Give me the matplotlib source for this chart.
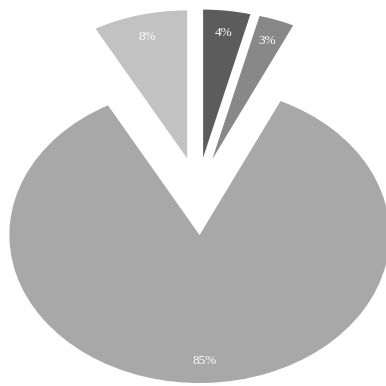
import matplotlib.pyplot as plt

values = [4, 3, 85, 8]
colors = ["#5c5c5c", "#888888", "#a8a8a8", "#c2c2c2"]
explode = [0.225, 0.225, 0.30, 0.225]

fig = plt.figure(figsize=(3.86, 3.86), dpi=100)
ax = fig.add_axes([0, 0, 1, 1])
wedges, texts, autotexts = ax.pie(
    values,
    colors=colors,
    explode=explode,
    startangle=90,
    counterclock=False,
    autopct="%d%%",
    pctdistance=0.85,
    wedgeprops=dict(linewidth=0),
    textprops=dict(color="white", fontsize=9.5, family="Liberation Serif"),
)
# the original pie is drawn stretched horizontally
ax.set_aspect("auto")
ax.set_xlim(-1.04, 0.99)
ax.set_ylim(-1.32, 1.288)
ax.axis("off")
fig.savefig("out.png", dpi=100)
